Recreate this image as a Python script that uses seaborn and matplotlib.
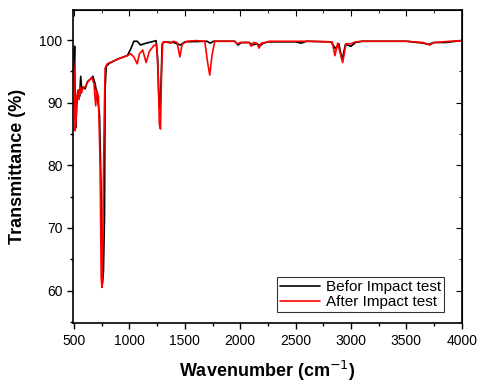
import pandas as pd
import numpy as np
import matplotlib
matplotlib.use('Agg')
import matplotlib.pyplot as plt
import seaborn as sns
from matplotlib.ticker import MultipleLocator

# Spectrum before the impact test (wavenumber, transmittance)
before_wn = [500, 505, 510, 515, 525, 540, 550, 560, 570, 585, 600, 620, 650, 670,
             690, 710, 730, 745, 755, 765, 775, 780, 790, 820, 900, 980, 1010, 1040,
             1070, 1100, 1150, 1200, 1240, 1255, 1265, 1275, 1285, 1295, 1310, 1400,
             1460, 1500, 1700, 1730, 1760, 1950, 1980, 2010, 2080, 2110, 2150, 2180,
             2210, 2250, 2500, 2550, 2600, 2820, 2860, 2890, 2920, 2950, 3000, 3040,
             3100, 3500, 3650, 3700, 3750, 3850, 3900, 3950, 4000]
before_t = [96, 99.0, 88, 86, 90, 92, 91, 94.2, 92, 92.5, 92.2, 93.3, 93.8, 94.2,
            93, 91, 88, 75, 61, 63, 72, 92, 95.8, 96.3, 97, 97.5, 98.5, 99.8,
            99.8, 99.2, 99.5, 99.7, 99.9, 97, 91, 89, 93, 99.3, 99.7, 99.6,
            99.2, 99.7, 99.8, 99.5, 99.8, 99.8, 99.2, 99.6, 99.6, 99.2, 99.4, 99.1,
            99.5, 99.7, 99.7, 99.5, 99.8, 99.7, 98.6, 99.4, 96.8, 99.3, 99.0, 99.6,
            99.8, 99.8, 99.5, 99.3, 99.6, 99.6, 99.7, 99.8, 99.9]

# Spectrum after the impact test
after_wn = [495, 505, 510, 518, 525, 535, 545, 555, 565, 580, 600, 630, 660, 680,
            695, 705, 720, 735, 745, 752, 760, 770, 780, 800, 900, 980, 1010, 1040,
            1070, 1090, 1120, 1150, 1180, 1220, 1245, 1260, 1270, 1280, 1290, 1300,
            1330, 1370, 1400, 1430, 1455, 1475, 1520, 1600, 1680, 1705, 1725, 1745,
            1770, 1950, 1975, 2000, 2080, 2100, 2120, 2150, 2170, 2190, 2230, 2260,
            2550, 2600, 2830, 2855, 2880, 2925, 2955, 3000, 3040, 3100, 3500, 3650,
            3710, 3750, 3900, 4000]
after_t = [96.5, 93, 85.5, 87, 91, 92, 90.5, 92.5, 91.5, 92.3, 92.5, 93.5, 94, 93,
           89.5, 92, 91, 80, 62, 60.5, 70, 85, 95.5, 96.2, 97, 97.5, 97.8, 97.3,
           96.2, 97.8, 98.4, 96.4, 98.2, 99.1, 99.3, 94, 86.5, 85.8, 95, 99.6,
           99.7, 99.5, 99.8, 99.6, 97.3, 99.3, 99.8, 99.9, 99.8, 96.5, 94.4, 97.5,
           99.8, 99.8, 99.4, 99.6, 99.6, 99.0, 99.6, 99.5, 98.7, 99.5, 99.6, 99.8,
           99.8, 99.8, 99.7, 97.5, 99.5, 96.4, 99.4, 99.4, 99.7, 99.8, 99.8, 99.6,
           99.2, 99.6, 99.8, 99.9]

labels = ['Befor Impact test', 'After Impact test']

df = pd.concat([
    pd.DataFrame({'wn': before_wn, 't': before_t, 'sample': labels[0]}),
    pd.DataFrame({'wn': after_wn, 't': after_t, 'sample': labels[1]}),
])

sns.set_style('ticks', {'axes.edgecolor': 'black', 'text.color': 'black',
                        'axes.labelcolor': 'black', 'xtick.color': 'black',
                        'ytick.color': 'black'})
plt.rcParams['font.family'] = ['Liberation Sans', 'DejaVu Sans']

fig = plt.figure(figsize=(4.8, 3.82), dpi=100)
ax = fig.add_axes([0.152, 0.154, 0.810, 0.820])

sns.lineplot(data=df, x='wn', y='t', hue='sample', palette=['black', '#ff0000'],
             estimator=None, sort=False, linewidth=1.2, ax=ax)

ax.set_xlim(490, 4000)
ax.set_ylim(54.8, 104.8)
ax.xaxis.set_major_locator(MultipleLocator(500))
ax.xaxis.set_minor_locator(MultipleLocator(250))
ax.yaxis.set_major_locator(MultipleLocator(10))
ax.yaxis.set_minor_locator(MultipleLocator(5))
ax.tick_params(which='both', direction='out', labelsize=10, width=1)
ax.tick_params(which='major', length=4)
ax.tick_params(which='minor', length=2.5)

# mirrored ticks on top and right, pointing inward
top = ax.secondary_xaxis('top')
top.xaxis.set_major_locator(MultipleLocator(500))
top.xaxis.set_minor_locator(MultipleLocator(250))
top.tick_params(which='both', direction='in', labeltop=False)
top.tick_params(which='major', length=4)
top.tick_params(which='minor', length=2.5)
right = ax.secondary_yaxis('right')
right.yaxis.set_major_locator(MultipleLocator(10))
right.yaxis.set_minor_locator(MultipleLocator(5))
right.tick_params(which='both', direction='in', labelright=False)
right.tick_params(which='major', length=4)
right.tick_params(which='minor', length=2.5)

for s in ax.spines.values():
    s.set_linewidth(1.2)

ax.set_xlabel('Wavenumber (cm$^{-1}$)', fontsize=13, fontweight='bold', labelpad=8)
ax.set_ylabel('Transmittance (%)', fontsize=13, fontweight='bold', labelpad=10)

leg = ax.legend(loc='lower right', bbox_to_anchor=(0.955, 0.035), fontsize=11,
                frameon=True, fancybox=False, edgecolor='black', borderpad=0.2,
                handlelength=2.6, handletextpad=0.4, labelspacing=0.05,
                borderaxespad=0)
leg.get_frame().set_linewidth(0.8)
for line in leg.get_lines():
    line.set_linewidth(1.2)

fig.savefig('out.png', dpi=100)
